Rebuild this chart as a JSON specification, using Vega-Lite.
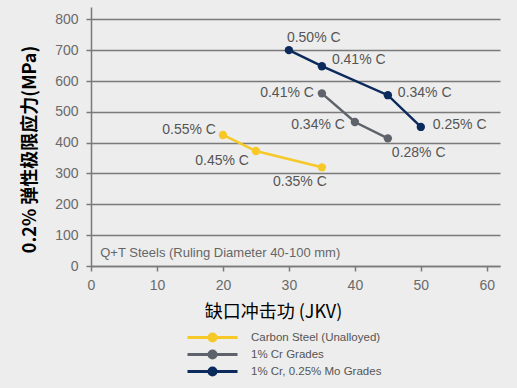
{
  "$schema": "https://vega.github.io/schema/vega-lite/v6.json",
  "width": 409,
  "height": 259,
  "autosize": {"type": "none"},
  "padding": {"left": 91, "top": 7, "right": 17, "bottom": 122},
  "background": "#ededed",
  "config": {
    "view": {"stroke": null},
    "font": "Liberation Sans",
    "axis": {
      "labelFont": "Liberation Sans",
      "labelFontSize": 14,
      "labelColor": "#6a6a6a",
      "labelFlush": false,
      "domainColor": "#7a7a7a",
      "domainWidth": 1.5,
      "tickColor": "#7a7a7a",
      "tickWidth": 1.5,
      "gridColor": "#7a7a7a",
      "gridWidth": 1.5
    }
  },
  "data": {
    "values": [
      {"series": "Carbon Steel (Unalloyed)", "x": 20, "y": 425, "label": "0.55% C", "id": "c1"},
      {"series": "Carbon Steel (Unalloyed)", "x": 25, "y": 373, "label": "0.45% C", "id": "c2"},
      {"series": "Carbon Steel (Unalloyed)", "x": 35, "y": 320, "label": "0.35% C", "id": "c3"},
      {"series": "1% Cr Grades", "x": 35, "y": 560, "label": "0.41% C", "id": "g1"},
      {"series": "1% Cr Grades", "x": 40, "y": 467, "label": "0.34% C", "id": "g2"},
      {"series": "1% Cr Grades", "x": 45, "y": 414, "label": "0.28% C", "id": "g3"},
      {"series": "1% Cr, 0.25% Mo Grades", "x": 30, "y": 700, "label": "0.50% C", "id": "n1"},
      {"series": "1% Cr, 0.25% Mo Grades", "x": 35, "y": 648, "label": "0.41% C", "id": "n2"},
      {"series": "1% Cr, 0.25% Mo Grades", "x": 45, "y": 554, "label": "0.34% C", "id": "n3"},
      {"series": "1% Cr, 0.25% Mo Grades", "x": 50, "y": 451, "label": "0.25% C", "id": "n4"}
    ]
  },
  "encoding": {
    "x": {
      "field": "x", "type": "quantitative",
      "scale": {"domain": [0, 62], "nice": false},
      "axis": {
        "values": [0, 10, 20, 30, 40, 50, 60],
        "grid": false,
        "tickSize": 5,
        "labelPadding": 7,
        "title": "缺口冲击功 (JKV)",
        "titleFont": "Noto Sans CJK SC",
        "titleFontSize": 18,
        "titleFontWeight": "normal",
        "titleColor": "#000000",
        "titleX": 182,
        "titleY": 46,
        "titleAlign": "center",
        "titleBaseline": "middle"
      }
    },
    "y": {
      "field": "y", "type": "quantitative",
      "scale": {"domain": [0, 840], "nice": false},
      "axis": {
        "values": [0, 100, 200, 300, 400, 500, 600, 700, 800],
        "grid": true,
        "tickSize": 5,
        "labelPadding": 8,
        "title": "0.2% 弹性极限应力(MPa)",
        "titleFont": "Noto Sans CJK SC",
        "titleFontSize": 18,
        "titleFontWeight": "bold",
        "titleColor": "#000000",
        "titleX": -61,
        "titleY": 142,
        "titleAngle": -90,
        "titleAlign": "center",
        "titleBaseline": "middle"
      }
    }
  },
  "layer": [
    {
      "mark": {"type": "line", "strokeWidth": 2.5},
      "encoding": {
        "color": {
          "field": "series", "type": "nominal",
          "scale": {
            "domain": ["Carbon Steel (Unalloyed)", "1% Cr Grades", "1% Cr, 0.25% Mo Grades"],
            "range": ["#f6c828", "#5e636b", "#0c2a5b"]
          },
          "legend": {
            "title": null,
            "orient": "none",
            "legendX": 115,
            "legendY": 324,
            "symbolType": "M-5,0H5M-0.7,0A0.7,0.7,0,1,1,0.7,0A0.7,0.7,0,1,1,-0.7,0Z",
            "symbolSize": 100,
            "symbolStrokeWidth": 3,
            "labelFont": "Liberation Sans",
            "labelFontSize": 11.5,
            "labelColor": "#555555",
            "labelOffset": 32,
            "rowPadding": -2,
            "encode": {
              "symbols": {
                "update": {
                  "fill": {"scale": "color", "field": "value"},
                  "stroke": {"scale": "color", "field": "value"},
                  "strokeWidth": {"value": 3},
                  "opacity": {"value": 1}
                }
              }
            }
          }
        }
      }
    },
    {
      "mark": {"type": "point", "filled": true, "size": 70, "opacity": 1},
      "encoding": {
        "color": {"field": "series", "type": "nominal"}
      }
    },
    {
      "transform": [{"filter": "datum.id == 'c1'"}],
      "mark": {"type": "text", "align": "right", "baseline": "middle", "dx": -7, "dy": -5, "fontSize": 14, "color": "#555555"},
      "encoding": {"text": {"field": "label"}}
    },
    {
      "transform": [{"filter": "datum.id == 'c2'"}],
      "mark": {"type": "text", "align": "right", "baseline": "middle", "dx": -7, "dy": 10, "fontSize": 14, "color": "#555555"},
      "encoding": {"text": {"field": "label"}}
    },
    {
      "transform": [{"filter": "datum.id == 'c3'"}],
      "mark": {"type": "text", "align": "center", "baseline": "middle", "dx": -22, "dy": 15, "fontSize": 14, "color": "#555555"},
      "encoding": {"text": {"field": "label"}}
    },
    {
      "transform": [{"filter": "datum.id == 'g1'"}],
      "mark": {"type": "text", "align": "right", "baseline": "middle", "dx": -8, "dy": 0, "fontSize": 14, "color": "#555555"},
      "encoding": {"text": {"field": "label"}}
    },
    {
      "transform": [{"filter": "datum.id == 'g2'"}],
      "mark": {"type": "text", "align": "right", "baseline": "middle", "dx": -10, "dy": 3, "fontSize": 14, "color": "#555555"},
      "encoding": {"text": {"field": "label"}}
    },
    {
      "transform": [{"filter": "datum.id == 'g3'"}],
      "mark": {"type": "text", "align": "left", "baseline": "middle", "dx": 4, "dy": 15, "fontSize": 14, "color": "#555555"},
      "encoding": {"text": {"field": "label"}}
    },
    {
      "transform": [{"filter": "datum.id == 'n1'"}],
      "mark": {"type": "text", "align": "left", "baseline": "middle", "dx": -2, "dy": -12, "fontSize": 14, "color": "#555555"},
      "encoding": {"text": {"field": "label"}}
    },
    {
      "transform": [{"filter": "datum.id == 'n2'"}],
      "mark": {"type": "text", "align": "left", "baseline": "middle", "dx": 10, "dy": -6, "fontSize": 14, "color": "#555555"},
      "encoding": {"text": {"field": "label"}}
    },
    {
      "transform": [{"filter": "datum.id == 'n3'"}],
      "mark": {"type": "text", "align": "left", "baseline": "middle", "dx": 10, "dy": -2, "fontSize": 14, "color": "#555555"},
      "encoding": {"text": {"field": "label"}}
    },
    {
      "transform": [{"filter": "datum.id == 'n4'"}],
      "mark": {"type": "text", "align": "left", "baseline": "middle", "dx": 12, "dy": -2, "fontSize": 14, "color": "#555555"},
      "encoding": {"text": {"field": "label"}}
    },
    {
      "data": {"values": [{"x": 1.4, "y": 42, "t": "Q+T Steels (Ruling Diameter 40-100 mm)"}]},
      "mark": {"type": "text", "align": "left", "baseline": "middle", "fontSize": 13, "color": "#666666"},
      "encoding": {"text": {"field": "t"}}
    }
  ]
}
